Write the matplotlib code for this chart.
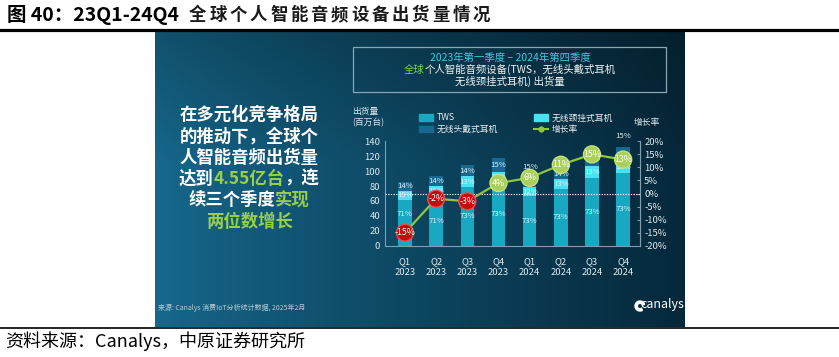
import numpy as np
import matplotlib
matplotlib.use("Agg")
import matplotlib.pyplot as plt
from matplotlib.patches import Rectangle, Wedge
from matplotlib.lines import Line2D

plt.rcParams["font.family"] = ["Noto Sans CJK SC", "DejaVu Sans"]

# data
quarters = ["Q1\n2023", "Q2\n2023", "Q3\n2023", "Q4\n2023",
            "Q1\n2024", "Q2\n2024", "Q3\n2024", "Q4\n2024"]
total = [86, 93, 108, 117, 92, 104, 125, 133]          # 百万台
tws_share = [71, 71, 73, 73, 73, 73, 73, 73]           # %
neck_share = [15, 15, 13, 12, 12, 13, 13, 12]
head_share = [14, 14, 14, 15, 15, 14, 14, 15]
growth = [-15, -2, -3, 4, 6, 11, 15, 13]               # YoY %
head_label_above = [False, False, False, False, True, False, False, True]

W, H = 839, 357
fig = plt.figure(figsize=(W / 100, H / 100), dpi=100)


def fx(px):
    return px / W


def fy(py):
    return 1 - py / H


C_TWS = "#19a8c2"
C_NECK = "#48e2f2"
C_HEAD = "#1a6790"
C_GREEN = "#8dc63f"
C_TXT = "#dde9ef"
C_HL = "#97cf4a"

# slide background (gradient)
bg = fig.add_axes([fx(155), fy(327), fx(530), 296 / H])
xs = np.linspace(0, 1, 530)
ys = np.linspace(0, 1, 296)
left_c = np.array([22, 104, 140]) / 255
right_c = np.array([5, 40, 58]) / 255
t = xs ** 0.9
row = left_c[None, :] * (1 - t[:, None]) + right_c[None, :] * t[:, None]
vf = 0.78 + 0.22 * np.clip(ys / 0.45, 0, 1)
img = row[None, :, :] * vf[:, None, None]
bg.imshow(np.clip(img, 0, 1), extent=(155, 685, 327, 31), aspect="auto",
          interpolation="bilinear")
bg.set_xlim(155, 685)
bg.set_ylim(327, 31)
bg.axis("off")

renderer = fig.canvas.get_renderer()


def rich(ax, xc, y, parts, **kw):
    ts = [ax.text(0, y, s, color=c, va="center", ha="left", **kw) for s, c in parts]
    ws = [tt.get_window_extent(renderer).width for tt in ts]
    x0 = xc - sum(ws) / 2
    for tt, w in zip(ts, ws):
        tt.set_x(x0)
        x0 += w


# title box on the slide
bg.add_patch(Rectangle((353, 47), 313, 45, fill=False, ec="#8aa6b0", lw=0.9))
rich(bg, 510, 58, [("2023年第一季度 – 2024年第四季度", "#45c6e0")], fontsize=7.5)
rich(bg, 510, 69.5, [("全球", "#7ed04a"), ("个人智能音频设备(TWS，无线头戴式耳机", "#eef3f5")],
     fontsize=7.5)
rich(bg, 510, 81, [("无线颈挂式耳机) 出货量", "#eef3f5")], fontsize=7.5)

# left message block
msg = [
    [("在多元化竞争格局", "white")],
    [("的推动下，全球个", "white")],
    [("人智能音频出货量", "white")],
    [("达到", "white"), ("4.55亿台", C_HL), ("，连", "white")],
    [("续三个季度", "white"), ("实现", C_HL)],
    [("两位数增长", C_HL)],
]
for i, parts in enumerate(msg):
    rich(bg, 249, 115 + i * 21.3, parts, fontsize=12.5, fontweight="bold")

bg.text(158, 308, "来源: Canalys 消费IoT分析统计数据, 2025年2月", fontsize=5,
        color="#b9cbd3", va="center", ha="left")
bg.text(684, 305, "canalys", fontsize=9, color="white", va="center", ha="right")
bg.add_patch(Wedge((640, 306), 5, 60, 340, width=2.3, color="white"))

bg.text(352, 112, "出货量", fontsize=6.3, color=C_TXT, va="center", ha="left")
bg.text(352, 123, "(百万台)", fontsize=6.3, color=C_TXT, va="center", ha="left")
bg.text(647, 123, "增长率", fontsize=6.3, color=C_TXT, va="center", ha="center")

# chart
ax = fig.add_axes([fx(385), fy(245.7), fx(640 - 385), (245.7 - 141.3) / H])
ax.set_facecolor("none")
x = np.arange(len(quarters))
tot = np.array(total, dtype=float)
tws = tot * np.array(tws_share) / 100
neck = tot * np.array(neck_share) / 100
head = tot * np.array(head_share) / 100
bw = 0.43
ax.bar(x, tws, bw, color=C_TWS, label="TWS", zorder=2)
ax.bar(x, neck, bw, bottom=tws, color=C_NECK, label="无线颈挂式耳机", zorder=2)
ax.bar(x, head, bw, bottom=tws + neck, color=C_HEAD, label="无线头戴式耳机", zorder=2)

lab_kw = dict(ha="center", va="center", fontsize=5.6, color="#d4f0f6", zorder=3)
for i in range(len(x)):
    ty = tws[i] * (0.7 if i == 0 else 0.5)
    ax.text(x[i], ty, f"{tws_share[i]}%", **lab_kw)
    ax.text(x[i], tws[i] + neck[i] / 2, f"{neck_share[i]}%", **lab_kw)
    hy = tot[i] + 14 if head_label_above[i] else tws[i] + neck[i] + head[i] / 2
    ax.text(x[i], hy, f"{head_share[i]}%", **lab_kw)

ax.set_xlim(-0.64, 7.54)
ax.set_ylim(0, 140)
ax.set_yticks(range(0, 141, 20))
ax.set_xticks(x)
ax.set_xticklabels(quarters, linespacing=1.35)
ax.tick_params(axis="x", length=0, pad=8, labelsize=6.8, labelcolor=C_TXT)
ax.tick_params(axis="y", length=0, pad=3.5, labelsize=6.8, labelcolor=C_TXT)
for s in ["top"]:
    ax.spines[s].set_visible(False)
for s in ["left", "right", "bottom"]:
    ax.spines[s].set_color("#7f9fae")
    ax.spines[s].set_linewidth(0.8)

ax2 = ax.twinx()
ax2.set_ylim(-20, 20)
ax2.set_yticks(range(-20, 21, 5))
ax2.set_yticklabels([f"{v}%" for v in range(-20, 21, 5)])
ax2.tick_params(axis="y", direction="in", length=2.5, width=0.7, color="#7f9fae",
                pad=3, labelsize=6.8, labelcolor=C_TXT)
for s in ["top", "left", "bottom"]:
    ax2.spines[s].set_visible(False)
ax2.spines["right"].set_color("#7f9fae")
ax2.spines["right"].set_linewidth(0.8)
ax2.axhline(0, color="#e8f0f3", lw=0.8, ls=(0, (1.2, 1.2)), zorder=2)
ax2.plot(x, growth, color=C_GREEN, lw=1.6, zorder=3)
face = ["#c40a0a" if g < 0 else "#a8d05a" for g in growth]
edge = ["#e85050" if g < 0 else "#c2e27a" for g in growth]
ax2.scatter(x, growth, s=150, c=face, edgecolors=edge, linewidths=1.0, zorder=4)
for xi, g in zip(x, growth):
    ax2.text(xi, g, f"{g}%", ha="center", va="center", fontsize=6.3,
             color="white", zorder=5)

handles = [
    Rectangle((0, 0), 1, 1, color=C_TWS),
    Rectangle((0, 0), 1, 1, color=C_HEAD),
    Rectangle((0, 0), 1, 1, color=C_NECK),
    Line2D([0], [0], color=C_GREEN, lw=1.5, marker="o", ms=3.5),
]
labels = ["TWS", "无线头戴式耳机", "无线颈挂式耳机", "增长率"]
ax2.legend(handles, labels, loc="upper left", bbox_to_anchor=(fx(419), fy(113.5)),
           bbox_transform=fig.transFigure, ncol=2, frameon=False, fontsize=6.3,
           handlelength=1.6, handleheight=0.7, handletextpad=0.45,
           columnspacing=4.1, labelspacing=0.3, borderpad=0, borderaxespad=0,
           labelcolor="#e8eef2")

# report frame
fig.add_artist(Line2D([0, 1], [fy(29.5), fy(29.5)], color="black", lw=2.3,
                      transform=fig.transFigure))
fig.add_artist(Line2D([0, 1], [fy(327.5), fy(327.5)], color="black", lw=1.2,
                      transform=fig.transFigure))

head_txt = fig.text(fx(7), fy(15), "图 40：23Q1-24Q4", fontsize=14,
                    fontweight="bold", va="center", ha="left", color="black")
x_end = head_txt.get_window_extent(renderer).x1 + 10
title_rest = "全球个人智能音频设备出货量情况"
pitch = (493 - x_end) / len(title_rest)
for k, ch in enumerate(title_rest):
    fig.text(fx(x_end + k * pitch), fy(15), ch, fontsize=12.5, fontweight="bold",
             va="center", ha="left", color="#1a1a1a")

fig.text(fx(5), fy(341), "资料来源：Canalys，中原证券研究所", fontsize=13,
         va="center", ha="left", color="black")

fig.savefig("out.png", dpi=100)
